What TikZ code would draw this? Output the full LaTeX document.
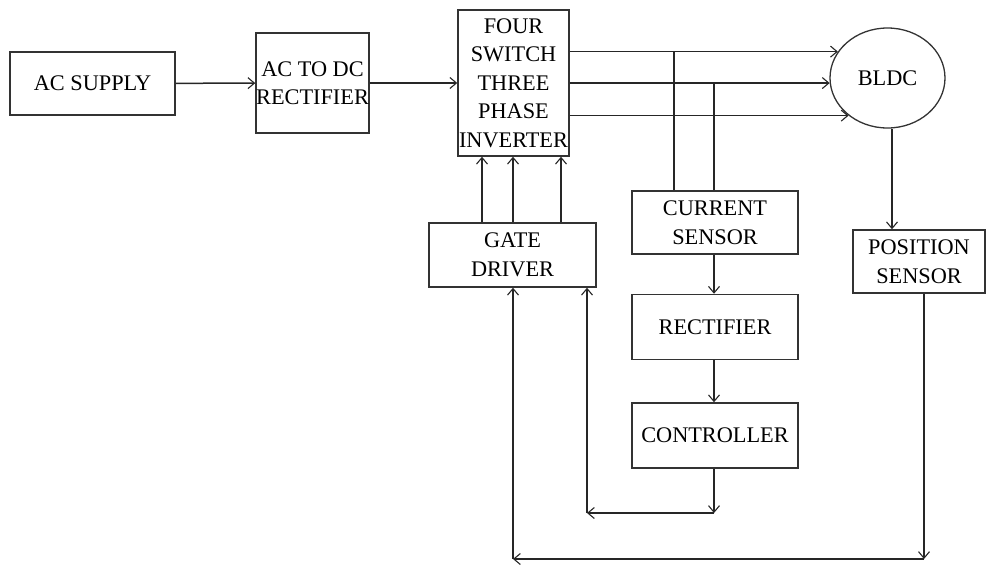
\documentclass[tikz,border=0pt]{standalone}
\usepackage{fontspec}
\setmainfont{Liberation Serif}
\usepackage{tikz}
\usetikzlibrary{positioning,arrows.meta,shapes.geometric,calc}

\begin{document}
\begin{tikzpicture}[
  x=1pt, y=-1pt,
  font=\fontsize{22.3}{28.5}\selectfont,
  node distance=39pt,
  box/.style={draw=black!80, line width=1.5pt, fill=white,
              inner sep=0pt, align=center, minimum width=#1},
  box/.default=166pt,
  motor/.style={draw=black!80, line width=1.3pt, ellipse,
                minimum width=115pt, minimum height=100pt, inner sep=0pt},
  line/.style={draw=black!85, line width=1.5pt},
  arr/.style={line, -{Straight Barb[length=6.5pt,width=11pt,line width=1.1pt]}},
]
\useasboundingbox (0,0) rectangle (986,565);
%====================== POWER PATH ======================
\node[box=165pt, minimum height=63pt] (supply) at (92.5,83.5) {AC SUPPLY};
\node[box=113pt, minimum height=100pt] (acdc) at (312.5,83) {AC TO DC\\RECTIFIER};
\node[box=111pt, minimum height=146pt] (inv) at (513.5,83) {FOUR\\SWITCH\\THREE\\PHASE\\INVERTER};
\node[motor] (bldc) at (887.5,78) {BLDC};

%====================== SENSING AND CONTROL ======================
\node[box=167pt, minimum height=64pt] (gate) at (512.5,255) {GATE\\DRIVER};
\node[box, minimum height=63pt] (cursens) at (715,222.5) {CURRENT\\SENSOR};
\node[box, minimum height=65pt, below=39pt of cursens] (rectf) {RECTIFIER};
\node[box, minimum height=65pt, below=42pt of rectf] (ctrl) {CONTROLLER};
\node[box=132pt, minimum height=63pt] (pos) at (919,261.5) {POSITION\\SENSOR};

\coordinate (fbR) at (924,559);
\coordinate (fbL) at (513,559);
\coordinate (ctL) at (587,513);

%====================== ARROWS ======================
\draw[arr] (supply) -- (acdc);
\draw[arr] (acdc) -- (inv);
% three phase lines to the motor
\draw[arr] (inv.east |- bldc.152) -- (bldc.152);
\draw[arr] (inv.east |- bldc.185) -- (bldc.185);
\draw[arr] (inv.east |- bldc.224) -- (bldc.224);
% current sensor taps
\draw[line] ([xshift=-41pt]cursens.north) -- ([xshift=-41pt]cursens.north |- bldc.152);
\draw[line] ([xshift=-1pt]cursens.north) -- ([xshift=-1pt]cursens.north |- bldc.185);
% gate signals
\draw[arr] ([xshift=-30.5pt]gate.north) -- ([xshift=-30.5pt]gate.north |- inv.south);
\draw[arr] ([xshift=0.5pt]gate.north) -- ([xshift=0.5pt]gate.north |- inv.south);
\draw[arr] ([xshift=48.5pt]gate.north) -- ([xshift=48.5pt]gate.north |- inv.south);
% current loop
\draw[arr] ([xshift=-1pt]cursens.south) -- ([xshift=-1pt]rectf.north);
\draw[arr] ([xshift=-1pt]rectf.south) -- ([xshift=-1pt]ctrl.north);
\draw[arr] ([xshift=-1pt]ctrl.south) -- ([xshift=-1pt]ctrl.south |- ctL);
\draw[arr] ([xshift=-1pt]ctrl.south |- ctL) -- (ctL);
\draw[arr] (ctL) -- (ctL |- gate.south);
% position loop
\draw[arr] ([xshift=4.5pt]bldc.south) -- ([xshift=4.5pt]bldc.south |- pos.north);
\draw[arr] (pos.south -| fbR) -- (fbR);
\draw[arr] (fbR) -- (fbL);
\draw[arr] (fbL) -- (fbL |- gate.south);
\end{tikzpicture}
\end{document}
